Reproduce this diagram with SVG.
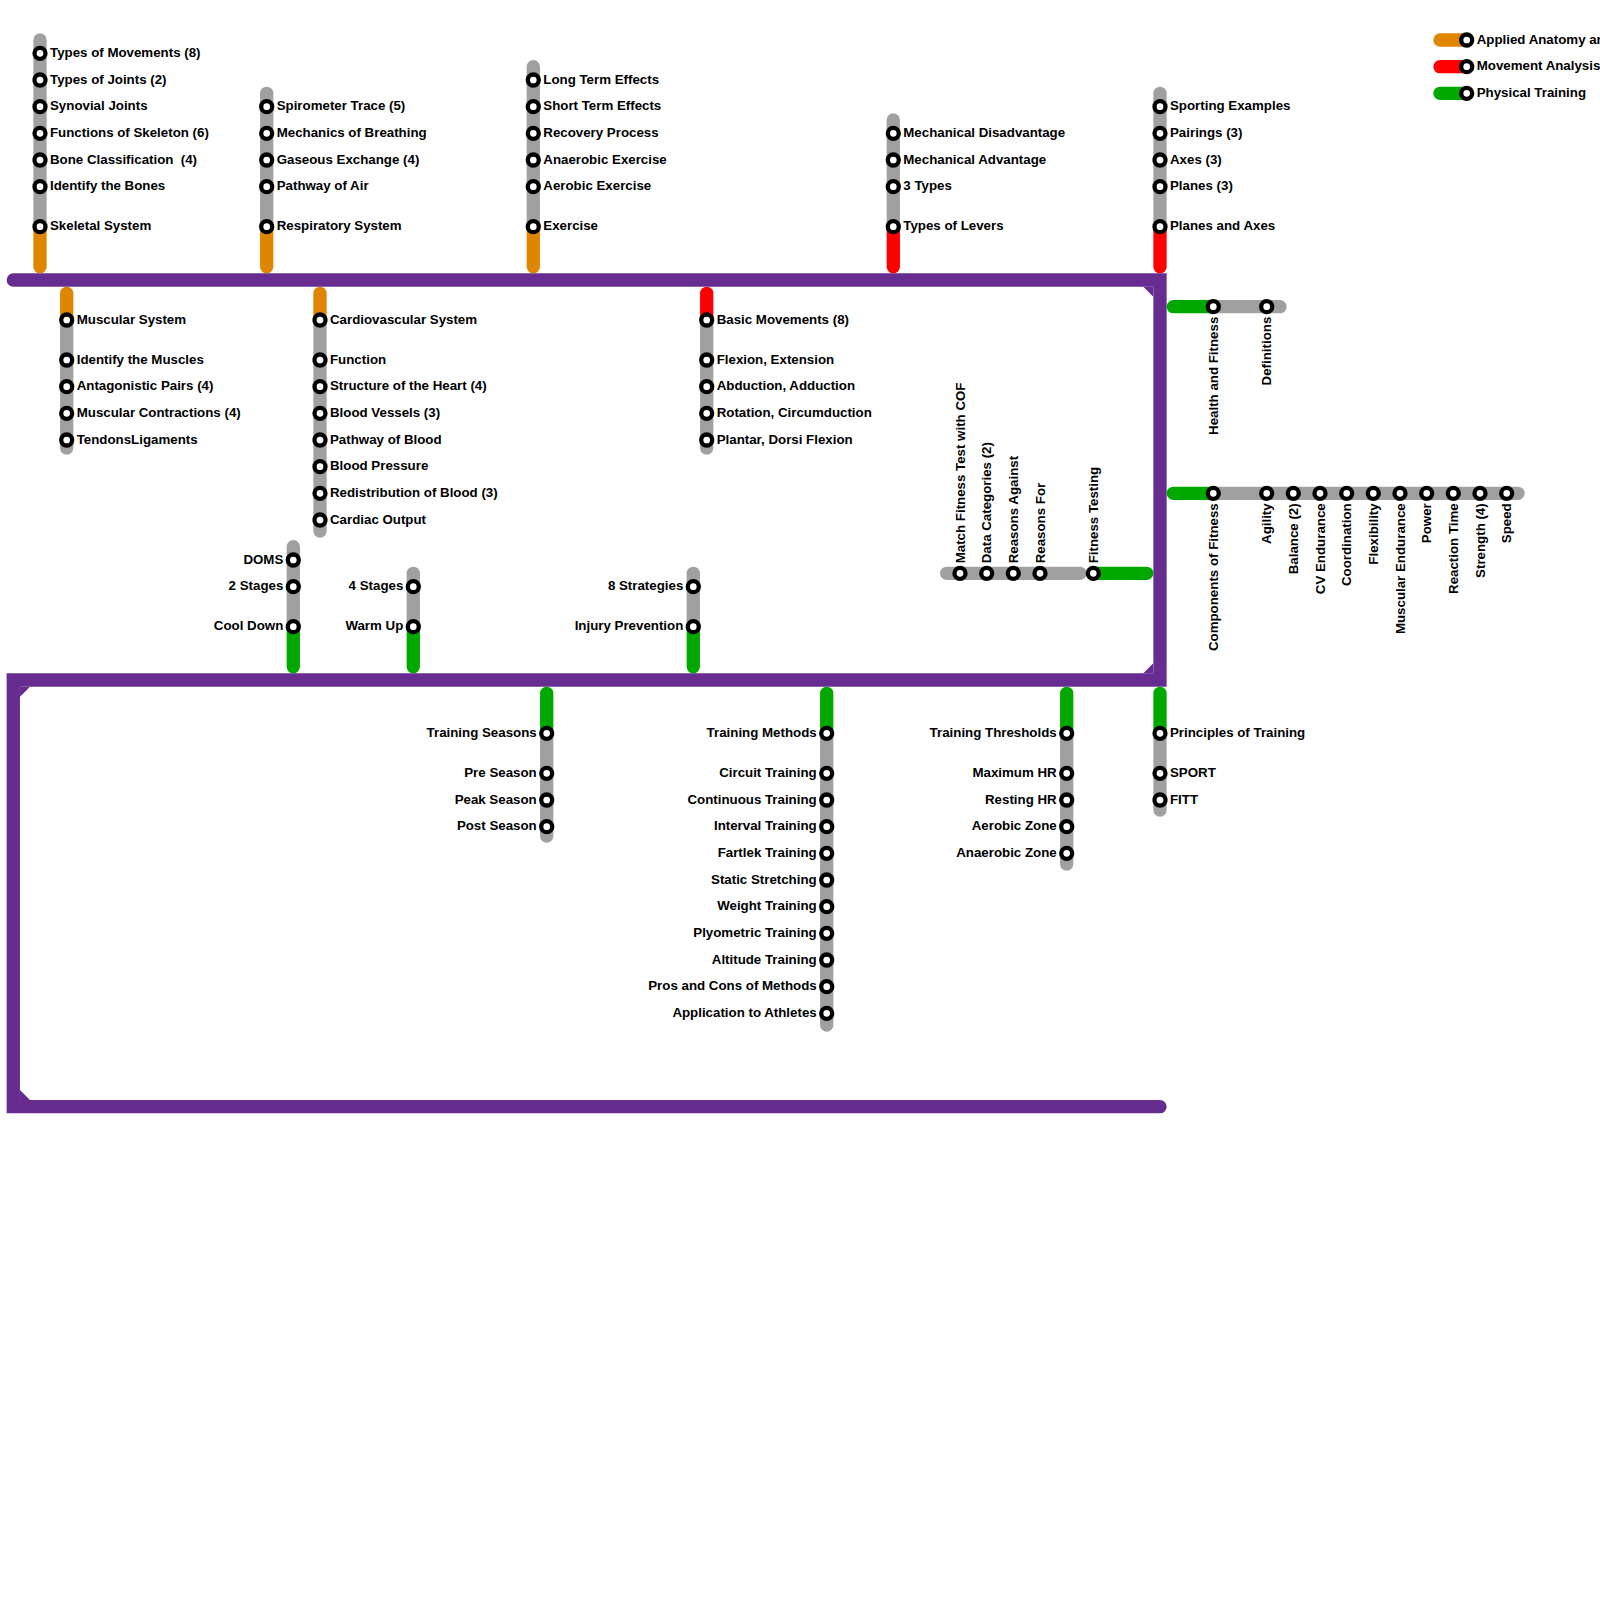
<svg xmlns="http://www.w3.org/2000/svg" width="1600" height="1600" viewBox="0 0 1600 1600">
<style>
.ln{fill:none;stroke-width:13.3;stroke-linecap:round}
.g{stroke:#A0A0A0}.o{stroke:#DF8600}.rd{stroke:#FF0000}.gr{stroke:#00A800}
.pu{fill:none;stroke:#662C90;stroke-width:13.3;stroke-linecap:round;stroke-linejoin:miter}
.st{fill:#fff;stroke:#000;stroke-width:4.3}
.t{font-family:"Liberation Sans",Arial,Helvetica,sans-serif;font-weight:bold;font-size:13.3px;fill:#000}
.e{text-anchor:end}
</style>
<rect width="1600" height="1600" fill="#fff"/>
<g id="connectors">
<path class="pu" d="M13.3,280 H1160 V680 H13.3 V1106.7 H1160"/>
<g fill="#662C90">
<polygon points="1143.3,286.7 1153.3,286.7 1153.3,296.7"/>
<polygon points="1153.3,663.3 1153.3,673.3 1143.3,673.3"/>
<polygon points="20,686.7 30,686.7 20,696.7"/>
<polygon points="20,1090 20,1100 30,1100"/>
</g>
<line class="ln g" x1="40" y1="40" x2="40" y2="226.7"/><line class="ln o" x1="40" y1="226.7" x2="40" y2="266.7"/>
<line class="ln g" x1="266.7" y1="93.3" x2="266.7" y2="226.7"/><line class="ln o" x1="266.7" y1="226.7" x2="266.7" y2="266.7"/>
<line class="ln g" x1="533.3" y1="66.7" x2="533.3" y2="226.7"/><line class="ln o" x1="533.3" y1="226.7" x2="533.3" y2="266.7"/>
<line class="ln g" x1="893.3" y1="120" x2="893.3" y2="226.7"/><line class="ln rd" x1="893.3" y1="226.7" x2="893.3" y2="266.7"/>
<line class="ln g" x1="1160" y1="93.3" x2="1160" y2="226.7"/><line class="ln rd" x1="1160" y1="226.7" x2="1160" y2="266.7"/>
<line class="ln o" x1="66.7" y1="293.3" x2="66.7" y2="320"/><line class="ln g" x1="66.7" y1="320" x2="66.7" y2="448"/>
<line class="ln o" x1="320" y1="293.3" x2="320" y2="320"/><line class="ln g" x1="320" y1="320" x2="320" y2="531"/>
<line class="ln rd" x1="706.7" y1="293.3" x2="706.7" y2="320"/><line class="ln g" x1="706.7" y1="320" x2="706.7" y2="448"/>
<line class="ln g" x1="293.3" y1="546.7" x2="293.3" y2="626.7"/><line class="ln gr" x1="293.3" y1="626.7" x2="293.3" y2="666.7"/>
<line class="ln g" x1="413.3" y1="573.3" x2="413.3" y2="626.7"/><line class="ln gr" x1="413.3" y1="626.7" x2="413.3" y2="666.7"/>
<line class="ln g" x1="693.3" y1="573.3" x2="693.3" y2="626.7"/><line class="ln gr" x1="693.3" y1="626.7" x2="693.3" y2="666.7"/>
<line class="ln gr" x1="546.7" y1="693.3" x2="546.7" y2="733.3"/><line class="ln g" x1="546.7" y1="733.3" x2="546.7" y2="836"/>
<line class="ln gr" x1="826.7" y1="693.3" x2="826.7" y2="733.3"/><line class="ln g" x1="826.7" y1="733.3" x2="826.7" y2="1025"/>
<line class="ln gr" x1="1066.7" y1="693.3" x2="1066.7" y2="733.3"/><line class="ln g" x1="1066.7" y1="733.3" x2="1066.7" y2="864"/>
<line class="ln gr" x1="1160" y1="693.3" x2="1160" y2="733.3"/><line class="ln g" x1="1160" y1="733.3" x2="1160" y2="810"/>
<line class="ln gr" x1="1173.3" y1="306.7" x2="1213.3" y2="306.7"/><line class="ln g" x1="1213.3" y1="306.7" x2="1280" y2="306.7"/>
<line class="ln gr" x1="1173.3" y1="493.3" x2="1213.3" y2="493.3"/><line class="ln g" x1="1213.3" y1="493.3" x2="1518" y2="493.3"/>
<line class="ln g" x1="946.7" y1="573.3" x2="1080" y2="573.3"/><line class="ln gr" x1="1093.3" y1="573.3" x2="1146.7" y2="573.3"/>
<line class="ln o" x1="1440" y1="40" x2="1466.7" y2="40"/>
<line class="ln rd" x1="1440" y1="66.7" x2="1466.7" y2="66.7"/>
<line class="ln gr" x1="1440" y1="93.3" x2="1466.7" y2="93.3"/>
</g>

<g id="skeletal-branch">
<g id="n-types-movements"><circle class="st" cx="40" cy="53.3" r="5.5"/><text class="t" x="50" y="57">Types of Movements (8)</text></g>
<g id="n-types-joints"><circle class="st" cx="40" cy="80" r="5.5"/><text class="t" x="50" y="83.7">Types of Joints (2)</text></g>
<g id="n-synovial"><circle class="st" cx="40" cy="106.7" r="5.5"/><text class="t" x="50" y="110.4">Synovial Joints</text></g>
<g id="n-functions-skeleton"><circle class="st" cx="40" cy="133.3" r="5.5"/><text class="t" x="50" y="137">Functions of Skeleton (6)</text></g>
<g id="n-bone-class"><circle class="st" cx="40" cy="160" r="5.5"/><text class="t" x="50" y="163.7" xml:space="preserve">Bone Classification  (4)</text></g>
<g id="n-identify-bones"><circle class="st" cx="40" cy="186.7" r="5.5"/><text class="t" x="50" y="190.4">Identify the Bones</text></g>
<g id="n-skeletal"><circle class="st" cx="40" cy="226.7" r="5.5"/><text class="t" x="50" y="230.4">Skeletal System</text></g>
</g>

<g id="respiratory-branch">
<g id="n-spirometer"><circle class="st" cx="266.7" cy="106.7" r="5.5"/><text class="t" x="276.7" y="110.4">Spirometer Trace (5)</text></g>
<g id="n-mech-breathing"><circle class="st" cx="266.7" cy="133.3" r="5.5"/><text class="t" x="276.7" y="137">Mechanics of Breathing</text></g>
<g id="n-gaseous"><circle class="st" cx="266.7" cy="160" r="5.5"/><text class="t" x="276.7" y="163.7">Gaseous Exchange (4)</text></g>
<g id="n-pathway-air"><circle class="st" cx="266.7" cy="186.7" r="5.5"/><text class="t" x="276.7" y="190.4">Pathway of Air</text></g>
<g id="n-respiratory"><circle class="st" cx="266.7" cy="226.7" r="5.5"/><text class="t" x="276.7" y="230.4">Respiratory System</text></g>
</g>

<g id="exercise-branch">
<g id="n-long-term"><circle class="st" cx="533.3" cy="80" r="5.5"/><text class="t" x="543.3" y="83.7">Long Term Effects</text></g>
<g id="n-short-term"><circle class="st" cx="533.3" cy="106.7" r="5.5"/><text class="t" x="543.3" y="110.4">Short Term Effects</text></g>
<g id="n-recovery"><circle class="st" cx="533.3" cy="133.3" r="5.5"/><text class="t" x="543.3" y="137">Recovery Process</text></g>
<g id="n-anaerobic-ex"><circle class="st" cx="533.3" cy="160" r="5.5"/><text class="t" x="543.3" y="163.7">Anaerobic Exercise</text></g>
<g id="n-aerobic-ex"><circle class="st" cx="533.3" cy="186.7" r="5.5"/><text class="t" x="543.3" y="190.4">Aerobic Exercise</text></g>
<g id="n-exercise"><circle class="st" cx="533.3" cy="226.7" r="5.5"/><text class="t" x="543.3" y="230.4">Exercise</text></g>
</g>

<g id="levers-branch">
<g id="n-mech-dis"><circle class="st" cx="893.3" cy="133.3" r="5.5"/><text class="t" x="903.3" y="137">Mechanical Disadvantage</text></g>
<g id="n-mech-adv"><circle class="st" cx="893.3" cy="160" r="5.5"/><text class="t" x="903.3" y="163.7">Mechanical Advantage</text></g>
<g id="n-3types"><circle class="st" cx="893.3" cy="186.7" r="5.5"/><text class="t" x="903.3" y="190.4">3 Types</text></g>
<g id="n-levers"><circle class="st" cx="893.3" cy="226.7" r="5.5"/><text class="t" x="903.3" y="230.4">Types of Levers</text></g>
</g>

<g id="planes-branch">
<g id="n-sporting"><circle class="st" cx="1160" cy="106.7" r="5.5"/><text class="t" x="1170" y="110.4">Sporting Examples</text></g>
<g id="n-pairings"><circle class="st" cx="1160" cy="133.3" r="5.5"/><text class="t" x="1170" y="137">Pairings (3)</text></g>
<g id="n-axes"><circle class="st" cx="1160" cy="160" r="5.5"/><text class="t" x="1170" y="163.7">Axes (3)</text></g>
<g id="n-planes"><circle class="st" cx="1160" cy="186.7" r="5.5"/><text class="t" x="1170" y="190.4">Planes (3)</text></g>
<g id="n-planes-axes"><circle class="st" cx="1160" cy="226.7" r="5.5"/><text class="t" x="1170" y="230.4">Planes and Axes</text></g>
</g>

<g id="muscular-branch">
<g id="n-muscular"><circle class="st" cx="66.7" cy="320" r="5.5"/><text class="t" x="76.7" y="323.7">Muscular System</text></g>
<g id="n-identify-muscles"><circle class="st" cx="66.7" cy="360" r="5.5"/><text class="t" x="76.7" y="363.7">Identify the Muscles</text></g>
<g id="n-antagonistic"><circle class="st" cx="66.7" cy="386.7" r="5.5"/><text class="t" x="76.7" y="390.4">Antagonistic Pairs (4)</text></g>
<g id="n-contractions"><circle class="st" cx="66.7" cy="413.3" r="5.5"/><text class="t" x="76.7" y="417">Muscular Contractions (4)</text></g>
<g id="n-tendons"><circle class="st" cx="66.7" cy="440" r="5.5"/><text class="t" x="76.7" y="443.7">TendonsLigaments</text></g>
</g>

<g id="cardio-branch">
<g id="n-cardio"><circle class="st" cx="320" cy="320" r="5.5"/><text class="t" x="330" y="323.7">Cardiovascular System</text></g>
<g id="n-function"><circle class="st" cx="320" cy="360" r="5.5"/><text class="t" x="330" y="363.7">Function</text></g>
<g id="n-heart"><circle class="st" cx="320" cy="386.7" r="5.5"/><text class="t" x="330" y="390.4">Structure of the Heart (4)</text></g>
<g id="n-vessels"><circle class="st" cx="320" cy="413.3" r="5.5"/><text class="t" x="330" y="417">Blood Vessels (3)</text></g>
<g id="n-pathway-blood"><circle class="st" cx="320" cy="440" r="5.5"/><text class="t" x="330" y="443.7">Pathway of Blood</text></g>
<g id="n-pressure"><circle class="st" cx="320" cy="466.7" r="5.5"/><text class="t" x="330" y="470.4">Blood Pressure</text></g>
<g id="n-redistribution"><circle class="st" cx="320" cy="493.3" r="5.5"/><text class="t" x="330" y="497">Redistribution of Blood (3)</text></g>
<g id="n-cardiac-output"><circle class="st" cx="320" cy="520" r="5.5"/><text class="t" x="330" y="523.7">Cardiac Output</text></g>
</g>

<g id="movement-branch">
<g id="n-basic-movements"><circle class="st" cx="706.7" cy="320" r="5.5"/><text class="t" x="716.7" y="323.7">Basic Movements (8)</text></g>
<g id="n-flexion"><circle class="st" cx="706.7" cy="360" r="5.5"/><text class="t" x="716.7" y="363.7">Flexion, Extension</text></g>
<g id="n-abduction"><circle class="st" cx="706.7" cy="386.7" r="5.5"/><text class="t" x="716.7" y="390.4">Abduction, Adduction</text></g>
<g id="n-rotation"><circle class="st" cx="706.7" cy="413.3" r="5.5"/><text class="t" x="716.7" y="417">Rotation, Circumduction</text></g>
<g id="n-plantar"><circle class="st" cx="706.7" cy="440" r="5.5"/><text class="t" x="716.7" y="443.7">Plantar, Dorsi Flexion</text></g>
</g>

<g id="cooldown-branch">
<g id="n-doms"><circle class="st" cx="293.3" cy="560" r="5.5"/><text class="t e" x="283.3" y="563.7">DOMS</text></g>
<g id="n-2stages"><circle class="st" cx="293.3" cy="586.7" r="5.5"/><text class="t e" x="283.3" y="590.4">2 Stages</text></g>
<g id="n-cooldown"><circle class="st" cx="293.3" cy="626.7" r="5.5"/><text class="t e" x="283.3" y="630.4">Cool Down</text></g>
</g>

<g id="warmup-branch">
<g id="n-4stages"><circle class="st" cx="413.3" cy="586.7" r="5.5"/><text class="t e" x="403.3" y="590.4">4 Stages</text></g>
<g id="n-warmup"><circle class="st" cx="413.3" cy="626.7" r="5.5"/><text class="t e" x="403.3" y="630.4">Warm Up</text></g>
</g>

<g id="injury-branch">
<g id="n-8strategies"><circle class="st" cx="693.3" cy="586.7" r="5.5"/><text class="t e" x="683.3" y="590.4">8 Strategies</text></g>
<g id="n-injury"><circle class="st" cx="693.3" cy="626.7" r="5.5"/><text class="t e" x="683.3" y="630.4">Injury Prevention</text></g>
</g>

<g id="seasons-branch">
<g id="n-seasons"><circle class="st" cx="546.7" cy="733.3" r="5.5"/><text class="t e" x="536.7" y="737">Training Seasons</text></g>
<g id="n-pre"><circle class="st" cx="546.7" cy="773.3" r="5.5"/><text class="t e" x="536.7" y="777">Pre Season</text></g>
<g id="n-peak"><circle class="st" cx="546.7" cy="800" r="5.5"/><text class="t e" x="536.7" y="803.7">Peak Season</text></g>
<g id="n-post"><circle class="st" cx="546.7" cy="826.7" r="5.5"/><text class="t e" x="536.7" y="830.4">Post Season</text></g>
</g>

<g id="methods-branch">
<g id="n-methods"><circle class="st" cx="826.7" cy="733.3" r="5.5"/><text class="t e" x="816.7" y="737">Training Methods</text></g>
<g id="n-circuit"><circle class="st" cx="826.7" cy="773.3" r="5.5"/><text class="t e" x="816.7" y="777">Circuit Training</text></g>
<g id="n-continuous"><circle class="st" cx="826.7" cy="800" r="5.5"/><text class="t e" x="816.7" y="803.7">Continuous Training</text></g>
<g id="n-interval"><circle class="st" cx="826.7" cy="826.7" r="5.5"/><text class="t e" x="816.7" y="830.4">Interval Training</text></g>
<g id="n-fartlek"><circle class="st" cx="826.7" cy="853.3" r="5.5"/><text class="t e" x="816.7" y="857">Fartlek Training</text></g>
<g id="n-static"><circle class="st" cx="826.7" cy="880" r="5.5"/><text class="t e" x="816.7" y="883.7">Static Stretching</text></g>
<g id="n-weight"><circle class="st" cx="826.7" cy="906.7" r="5.5"/><text class="t e" x="816.7" y="910.4">Weight Training</text></g>
<g id="n-plyometric"><circle class="st" cx="826.7" cy="933.3" r="5.5"/><text class="t e" x="816.7" y="937">Plyometric Training</text></g>
<g id="n-altitude"><circle class="st" cx="826.7" cy="960" r="5.5"/><text class="t e" x="816.7" y="963.7">Altitude Training</text></g>
<g id="n-pros-cons"><circle class="st" cx="826.7" cy="986.7" r="5.5"/><text class="t e" x="816.7" y="990.4">Pros and Cons of Methods</text></g>
<g id="n-application"><circle class="st" cx="826.7" cy="1013.3" r="5.5"/><text class="t e" x="816.7" y="1017">Application to Athletes</text></g>
</g>

<g id="thresholds-branch">
<g id="n-thresholds"><circle class="st" cx="1066.7" cy="733.3" r="5.5"/><text class="t e" x="1056.7" y="737">Training Thresholds</text></g>
<g id="n-maxhr"><circle class="st" cx="1066.7" cy="773.3" r="5.5"/><text class="t e" x="1056.7" y="777">Maximum HR</text></g>
<g id="n-resthr"><circle class="st" cx="1066.7" cy="800" r="5.5"/><text class="t e" x="1056.7" y="803.7">Resting HR</text></g>
<g id="n-aerobic-zone"><circle class="st" cx="1066.7" cy="826.7" r="5.5"/><text class="t e" x="1056.7" y="830.4">Aerobic Zone</text></g>
<g id="n-anaerobic-zone"><circle class="st" cx="1066.7" cy="853.3" r="5.5"/><text class="t e" x="1056.7" y="857">Anaerobic Zone</text></g>
</g>

<g id="principles-branch">
<g id="n-principles"><circle class="st" cx="1160" cy="733.3" r="5.5"/><text class="t" x="1170" y="737">Principles of Training</text></g>
<g id="n-sport"><circle class="st" cx="1160" cy="773.3" r="5.5"/><text class="t" x="1170" y="777">SPORT</text></g>
<g id="n-fitt"><circle class="st" cx="1160" cy="800" r="5.5"/><text class="t" x="1170" y="803.7">FITT</text></g>
</g>

<g id="health-branch">
<g id="n-health"><circle class="st" cx="1213.3" cy="306.7" r="5.5"/><text class="t e" transform="translate(1213.3,316.7) rotate(-90)" y="4.5">Health and Fitness</text></g>
<g id="n-definitions"><circle class="st" cx="1266.7" cy="306.7" r="5.5"/><text class="t e" transform="translate(1266.7,316.7) rotate(-90)" y="4.5">Definitions</text></g>
</g>

<g id="components-branch">
<g id="n-components"><circle class="st" cx="1213.3" cy="493.3" r="5.5"/><text class="t e" transform="translate(1213.3,503.3) rotate(-90)" y="4.5">Components of Fitness</text></g>
<g id="n-agility"><circle class="st" cx="1266.7" cy="493.3" r="5.5"/><text class="t e" transform="translate(1266.7,503.3) rotate(-90)" y="4.5">Agility</text></g>
<g id="n-balance"><circle class="st" cx="1293.3" cy="493.3" r="5.5"/><text class="t e" transform="translate(1293.3,503.3) rotate(-90)" y="4.5">Balance (2)</text></g>
<g id="n-cv"><circle class="st" cx="1320" cy="493.3" r="5.5"/><text class="t e" transform="translate(1320,503.3) rotate(-90)" y="4.5">CV Endurance</text></g>
<g id="n-coordination"><circle class="st" cx="1346.7" cy="493.3" r="5.5"/><text class="t e" transform="translate(1346.7,503.3) rotate(-90)" y="4.5">Coordination</text></g>
<g id="n-flexibility"><circle class="st" cx="1373.3" cy="493.3" r="5.5"/><text class="t e" transform="translate(1373.3,503.3) rotate(-90)" y="4.5">Flexibility</text></g>
<g id="n-muscular-end"><circle class="st" cx="1400" cy="493.3" r="5.5"/><text class="t e" transform="translate(1400,503.3) rotate(-90)" y="4.5">Muscular Endurance</text></g>
<g id="n-power"><circle class="st" cx="1426.7" cy="493.3" r="5.5"/><text class="t e" transform="translate(1426.7,503.3) rotate(-90)" y="4.5">Power</text></g>
<g id="n-reaction"><circle class="st" cx="1453.3" cy="493.3" r="5.5"/><text class="t e" transform="translate(1453.3,503.3) rotate(-90)" y="4.5">Reaction Time</text></g>
<g id="n-strength"><circle class="st" cx="1480" cy="493.3" r="5.5"/><text class="t e" transform="translate(1480,503.3) rotate(-90)" y="4.5">Strength (4)</text></g>
<g id="n-speed"><circle class="st" cx="1506.7" cy="493.3" r="5.5"/><text class="t e" transform="translate(1506.7,503.3) rotate(-90)" y="4.5">Speed</text></g>
</g>

<g id="testing-branch">
<g id="n-match"><circle class="st" cx="960" cy="573.3" r="5.5"/><text class="t" transform="translate(960,563.3) rotate(-90)" y="4.5">Match Fitness Test with COF</text></g>
<g id="n-data"><circle class="st" cx="986.7" cy="573.3" r="5.5"/><text class="t" transform="translate(986.7,563.3) rotate(-90)" y="4.5">Data Categories (2)</text></g>
<g id="n-against"><circle class="st" cx="1013.3" cy="573.3" r="5.5"/><text class="t" transform="translate(1013.3,563.3) rotate(-90)" y="4.5">Reasons Against</text></g>
<g id="n-for"><circle class="st" cx="1040" cy="573.3" r="5.5"/><text class="t" transform="translate(1040,563.3) rotate(-90)" y="4.5">Reasons For</text></g>
<g id="n-testing"><circle class="st" cx="1093.3" cy="573.3" r="5.5"/><text class="t" transform="translate(1093.3,563.3) rotate(-90)" y="4.5">Fitness Testing</text></g>
</g>

<g id="legend">
<g id="lg-anatomy"><circle class="st" cx="1466.7" cy="40" r="5.5"/><text class="t" x="1476.7" y="43.7">Applied Anatomy and Physiology</text></g>
<g id="lg-movement"><circle class="st" cx="1466.7" cy="66.7" r="5.5"/><text class="t" x="1476.7" y="70.4">Movement Analysis</text></g>
<g id="lg-training"><circle class="st" cx="1466.7" cy="93.3" r="5.5"/><text class="t" x="1476.7" y="97">Physical Training</text></g>
</g>
</svg>
